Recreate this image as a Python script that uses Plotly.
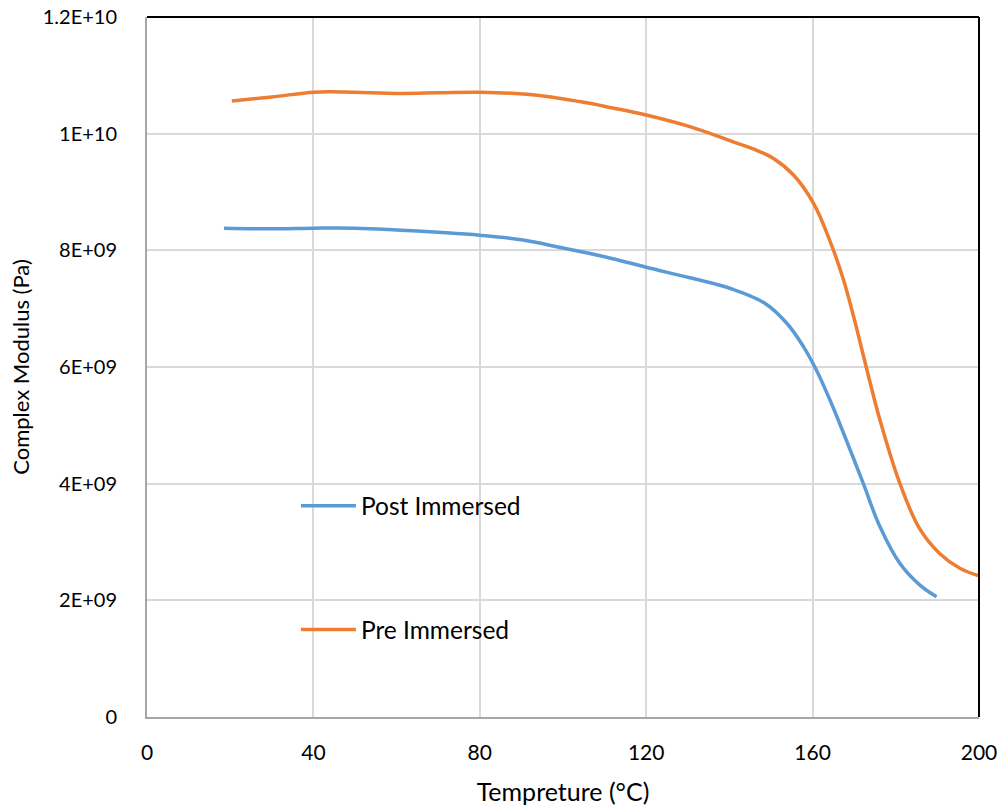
import plotly.graph_objects as go

# Post Immersed
post_T = [18.5, 30, 40, 50, 60, 70, 80, 90, 100, 110, 120, 130.5, 140.1, 148.6, 153.8, 157.8, 160.6, 164.2, 167.8,
          172.2, 176.2, 181, 185.8, 189.8]
post_V = [8.38e9, 8.37e9, 8.38e9, 8.38e9, 8.35e9, 8.31e9, 8.26e9, 8.18e9, 8.04e9, 7.89e9, 7.71e9, 7.53e9, 7.35e9,
          7.09e9, 6.75e9, 6.35e9, 5.99e9, 5.43e9, 4.80e9, 4.0e9, 3.26e9, 2.63e9, 2.26e9, 2.06e9]

# Pre Immersed
pre_T = [20.4, 30, 40, 44, 50, 61, 70, 80, 92, 104, 112, 120, 130.5, 140.9, 145.7, 150.5, 155.3, 160.2, 164.6, 167.4,
         169.8, 173.8, 176.2, 181, 185.8, 190.6, 195.4, 200]
pre_V = [10.56e9, 10.63e9, 10.71e9, 10.72e9, 10.71e9, 10.69e9, 10.70e9, 10.71e9, 10.67e9, 10.55e9, 10.44e9, 10.32e9,
         10.12e9, 9.86e9, 9.74e9, 9.58e9, 9.30e9, 8.81e9, 8.08e9, 7.50e9, 6.88e9, 5.74e9, 5.09e9, 4.0e9, 3.22e9,
         2.80e9, 2.55e9, 2.42e9]

x_ticks = [0, 40, 80, 120, 160, 200]
y_ticks = [0, 2e9, 4e9, 6e9, 8e9, 1e10, 1.2e10]
y_ticktext = ["0", "2E+09", "4E+09", "6E+09", "8E+09", "1E+10", "1.2E+10"]

FONT = "Lato, 'Open Sans', sans-serif"

fig = go.Figure()
fig.add_trace(go.Scatter(x=post_T, y=post_V, mode="lines", name="Post Immersed",
                         line=dict(color="#5b9bd5", width=3.5, shape="spline", smoothing=1.1),
                         legendgroup="a"))
fig.add_trace(go.Scatter(x=pre_T, y=pre_V, mode="lines", name="Pre Immersed",
                         line=dict(color="#ed7d31", width=3.5, shape="spline", smoothing=1.1),
                         legendgroup="b"))

fig.update_layout(
    width=1007, height=811,
    margin=dict(l=147, r=28, t=17, b=94, autoexpand=False),
    plot_bgcolor="white", paper_bgcolor="white",
    font=dict(family=FONT, size=21, color="#000000"),
    showlegend=True,
    legend=dict(x=0.179, y=0.334, xanchor="left", yanchor="top", itemwidth=55,
                bgcolor="rgba(0,0,0,0)", font=dict(size=24.5, family=FONT),
                traceorder="grouped", tracegroupgap=89),
    xaxis=dict(range=[0, 200], tickvals=x_ticks, showgrid=True, gridcolor="#d9d9d9", gridwidth=1.5,
               showline=True, linecolor="#a6a6a6", linewidth=2, zeroline=False, automargin=False,
               ticks="", ticklabelstandoff=16, tickfont=dict(size=21), ticklabeloverflow="allow",
               title=dict(text="Tempreture (°C)", font=dict(size=25), standoff=20)),
    yaxis=dict(range=[0, 1.2e10], tickvals=y_ticks, ticktext=y_ticktext, showgrid=True, gridcolor="#d9d9d9",
               gridwidth=1.5, showline=True, linecolor="#a6a6a6", linewidth=2, zeroline=False, automargin=False,
               ticks="", ticklabelstandoff=24, tickfont=dict(size=20), ticklabeloverflow="allow",
               title=dict(text="Complex Modulus (Pa)", font=dict(size=22), standoff=7)),
    shapes=[
        dict(type="line", xref="paper", yref="paper", x0=0, x1=1, y0=1, y1=1, line=dict(color="black", width=2)),
        dict(type="line", xref="paper", yref="paper", x0=1, x1=1, y0=0, y1=1, line=dict(color="black", width=2)),
    ],
)

fig.write_html("out.html", config={"displayModeBar": False},
               post_script="document.body.style.margin='0';document.body.style.overflow='hidden';")
